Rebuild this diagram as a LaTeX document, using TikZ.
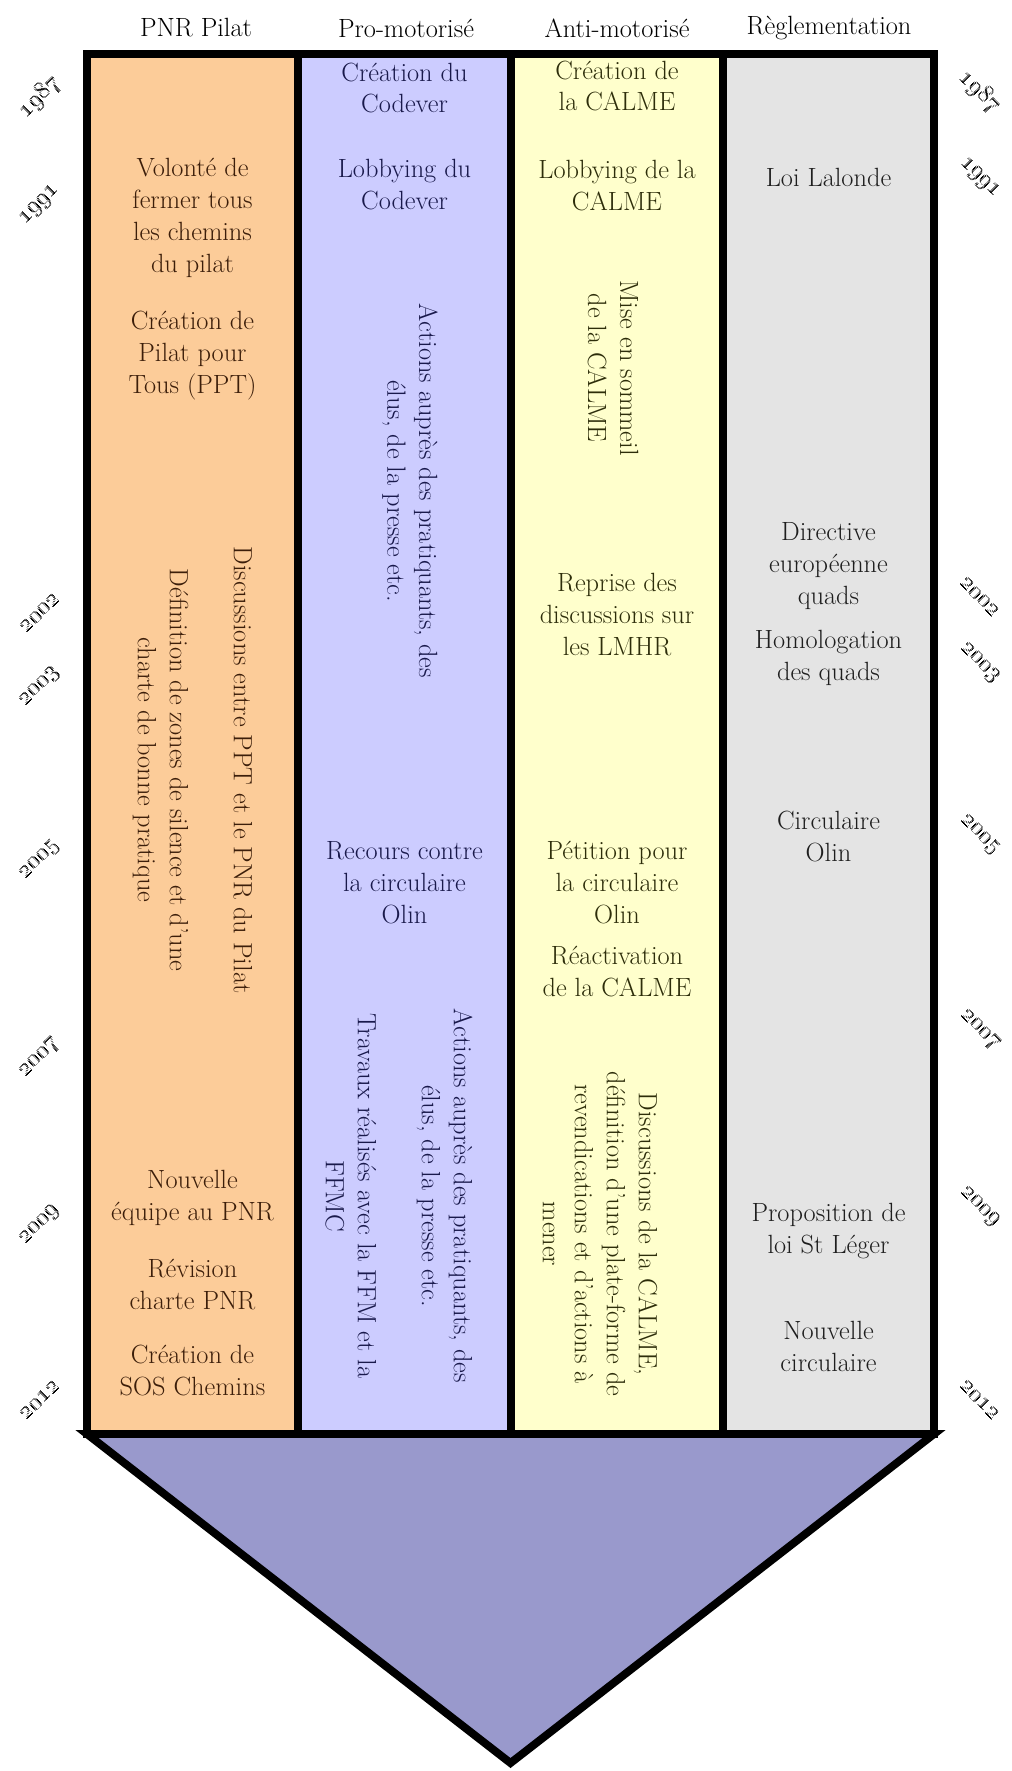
\documentclass[tikz,border=0pt]{standalone}
\usepackage{tikz}
\usetikzlibrary{positioning}
\definecolor{pnrorange}{RGB}{252,204,153}
\definecolor{problue}{RGB}{204,204,255}
\definecolor{antiyellow}{RGB}{255,255,204}
\definecolor{reglgray}{RGB}{228,228,228}
\definecolor{funnelblue}{RGB}{153,153,204}
\definecolor{pnrtext}{RGB}{60,30,10}
\definecolor{protext}{RGB}{25,25,75}
\definecolor{antitext}{RGB}{45,45,10}
\definecolor{regltext}{RGB}{30,30,30}

\begin{document}
\begin{tikzpicture}[
    evt/.style={align=center, inner sep=0pt, font=\fontsize{15}{18.2}\selectfont},
    pnr/.style={evt, text=pnrtext},
    pro/.style={evt, text=protext},
    anti/.style={evt, text=antitext},
    regl/.style={evt, text=regltext},
    head/.style={evt, text=black},
    yearl/.style={evt, rotate=45},
    yearr/.style={evt, rotate=-45},
    frame/.style={line width=4.5pt, line join=miter},
  ]
    \useasboundingbox (0,0) rectangle (20.22,-35.42);

    % columns
    \fill[pnrorange]  (1.74,-1.08) rectangle (5.96,-28.68);
    \fill[problue]    (5.96,-1.08) rectangle (10.22,-28.68);
    \fill[antiyellow] (10.22,-1.08) rectangle (14.46,-28.68);
    \fill[reglgray]   (14.46,-1.08) rectangle (18.68,-28.68);

    \filldraw[frame, fill=funnelblue] (1.74,-28.68) -- (18.68,-28.68)
      -- (10.21,-35.26) -- cycle;
    \draw[frame] (1.74,-1.08) rectangle (18.68,-28.68);
    \draw[frame] (5.96,-1.08) -- (5.96,-28.68);
    \draw[frame] (10.22,-1.08) -- (10.22,-28.68);
    \draw[frame] (14.46,-1.08) -- (14.46,-28.68);

    \node[head] (hpnr)  at (3.92,-0.56) {PNR Pilat};
    \node[head] (hpro)  at (8.12,-0.56) {Pro-motoris\'e};
    \node[head] (hanti) at (12.34,-0.56) {Anti-motoris\'e};
    \node[head] (hregl) at (16.58,-0.56) {R\`eglementation};

    % PNR Pilat
    \node[pnr] (volonte) at (3.85,-4.36)
      {Volont\'e de\\fermer tous\\les chemins\\du pilat};
    \node[pnr] (ppt) at (3.85,-7.12) {Cr\'eation de\\Pilat pour\\Tous (PPT)};
    \node[pnr, rotate=-90] (zones) at (3.85,-15.4)
      {Discussions entre PPT et le PNR du Pilat\\[18.2pt]
       D\'efinition de zones de silence et d'une\\charte de bonne pratique};
    \node[pnr] (equipe) at (3.85,-23.96) {Nouvelle\\\'equipe au PNR};
    \node[pnr] (revision) at (3.85,-25.7) {R\'evision\\charte PNR};
    \node[pnr] (sos) at (3.85,-27.4) {Cr\'eation de\\SOS Chemins};

    % Pro-motorise
    \node[pro] (codever) at (8.09,-1.76) {Cr\'eation du\\Codever};
    \node[pro] (lobbypro) at (8.09,-3.7) {Lobbying du\\Codever};
    \node[pro, rotate=-90] (actions) at (8.2,-9.82)
      {Actions aupr\`es des pratiquants, des\\\'elus, de la presse etc.};
    \node[pro] (recours) at (8.09,-17.66) {Recours contre\\la circulaire\\Olin};
    \node[pro, rotate=-90] (travaux) at (7.98,-23.92)
      {Actions aupr\`es des pratiquants, des\\\'elus, de la presse etc.\\[18.2pt]
       Travaux r\'ealis\'es avec la FFM et la\\FFMC};

    % Anti-motorise
    \node[anti] (calme) at (12.34,-1.72) {Cr\'eation de\\la CALME};
    \node[anti] (lobbyanti) at (12.34,-3.72) {Lobbying de la\\CALME};
    \node[anti, rotate=-90] (sommeil) at (12.26,-7.36)
      {Mise en sommeil\\de la CALME};
    \node[anti] (reprise) at (12.34,-12.3)
      {Reprise des\\discussions sur\\les LMHR};
    \node[anti] (petition) at (12.34,-17.66)
      {P\'etition pour\\la circulaire\\Olin};
    \node[anti] (reactiv) at (12.34,-19.44) {R\'eactivation\\de la CALME};
    \node[anti, rotate=-90] (plateforme) at (12.0,-24.68)
      {Discussions de la CALME,\\d\'efinition d'une plate-forme de\\
       revendications et d'actions \`a\\mener};

    % Reglementation
    \node[regl] (lalonde) at (16.57,-3.54) {Loi Lalonde};
    \node[regl] (directive) at (16.57,-11.32)
      {Directive\\europ\'eenne\\quads};
    \node[regl] (homolog) at (16.57,-13.16) {Homologation\\des quads};
    \node[regl] (olin) at (16.57,-16.72) {Circulaire\\Olin};
    \node[regl] (stleger) at (16.57,-24.62) {Proposition de\\loi St L\'eger};
    \node[regl] (nouvcirc) at (16.57,-26.92) {Nouvelle\\circulaire};

    % years
    \node[yearl] (l1987) at (0.8,-1.94)  {\oldstylenums{1987}};
    \node[yearl] (l1991) at (0.8,-4.1)   {\oldstylenums{1991}};
    \node[yearl] (l2002) at (0.8,-12.26) {\oldstylenums{2002}};
    \node[yearl] (l2003) at (0.8,-13.74) {\oldstylenums{2003}};
    \node[yearl] (l2005) at (0.8,-17.2)  {\oldstylenums{2005}};
    \node[yearl] (l2007) at (0.8,-21.16) {\oldstylenums{2007}};
    \node[yearl] (l2009) at (0.8,-24.5)  {\oldstylenums{2009}};
    \node[yearl] (l2012) at (0.8,-28.0)  {\oldstylenums{2012}};
    \node[yearr] (r1987) at (19.6,-1.84)  {\oldstylenums{1987}};
    \node[yearr] (r1991) at (19.6,-3.56)  {\oldstylenums{1991}};
    \node[yearr] (r2002) at (19.6,-11.94) {\oldstylenums{2002}};
    \node[yearr] (r2003) at (19.6,-13.26) {\oldstylenums{2003}};
    \node[yearr] (r2005) at (19.6,-16.7)  {\oldstylenums{2005}};
    \node[yearr] (r2007) at (19.6,-20.6)  {\oldstylenums{2007}};
    \node[yearr] (r2009) at (19.6,-24.14) {\oldstylenums{2009}};
    \node[yearr] (r2012) at (19.6,-28.0)  {\oldstylenums{2012}};
\end{tikzpicture}
\end{document}
